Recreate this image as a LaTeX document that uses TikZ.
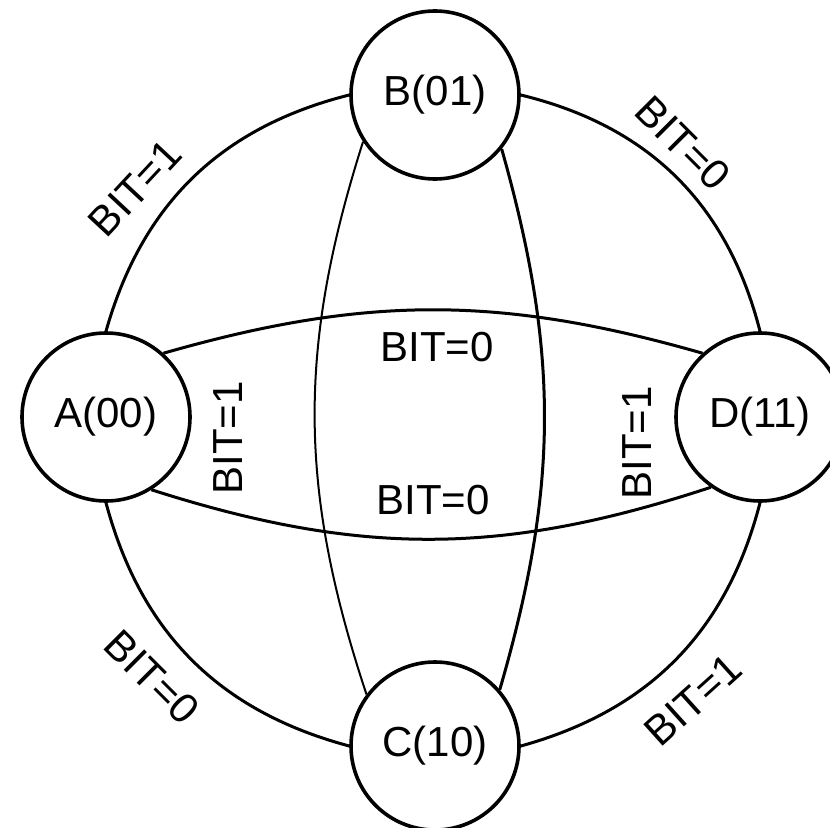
\documentclass[tikz,border=0pt]{standalone}
\usepackage{fontspec}
\setmainfont{Liberation Sans}
\begin{document}
\begin{tikzpicture}[x=0.5pt,y=0.5pt,
  state/.style={circle,draw,line width=1.8pt,minimum size=84pt,inner sep=0pt,
                font=\fontsize{21}{24}\selectfont},
  edge/.style={line width=1.5pt},
  thinedge/.style={line width=1pt},
  lbl/.style={font=\fontsize{21}{24}\selectfont,inner sep=0pt}]
\useasboundingbox (0,0) rectangle (830,827);

% states of the two-bit register
\node[state] (A) at (106,410) {A(00)};
\node[state] (B) at (435,732) {B(01)};
\node[state] (C) at (435,81)  {C(10)};
\node[state] (D) at (760,410) {D(11)};

% outer ring
\draw[edge] (A.north) to[bend left=30] (B.west);
\draw[edge] (B.east)  to[bend left=31] (D.north);
\draw[edge] (D.south) to[bend left=30] (C.east);
\draw[edge] (C.west)  to[bend left=30] (A.south);

% inner transitions
\draw[edge] (A.48)  to[bend left=16]  (D.132);
\draw[edge] (A.-58) to[bend right=18] (D.-125);
\draw[thinedge] (B.213) to[bend right=18] (C.143);
\draw[edge] (B.-39) to[bend left=16] (C.41);

% transition labels
\node[lbl,rotate=47]  (lAB) at (135,639) {BIT=1};
\node[lbl,rotate=-45] (lBD) at (683,684) {BIT=0};
\node[lbl,rotate=-45] (lAC) at (152,150) {BIT=0};
\node[lbl,rotate=42]  (lCD) at (693,127) {BIT=1};
\node[lbl] (lTop) at (437,480) {BIT=0};
\node[lbl] (lBot) at (433,327) {BIT=0};
\node[lbl,rotate=90] (lLeft)  at (228,389) {BIT=1};
\node[lbl,rotate=90] (lRight) at (637,384) {BIT=1};
\end{tikzpicture}
\end{document}
